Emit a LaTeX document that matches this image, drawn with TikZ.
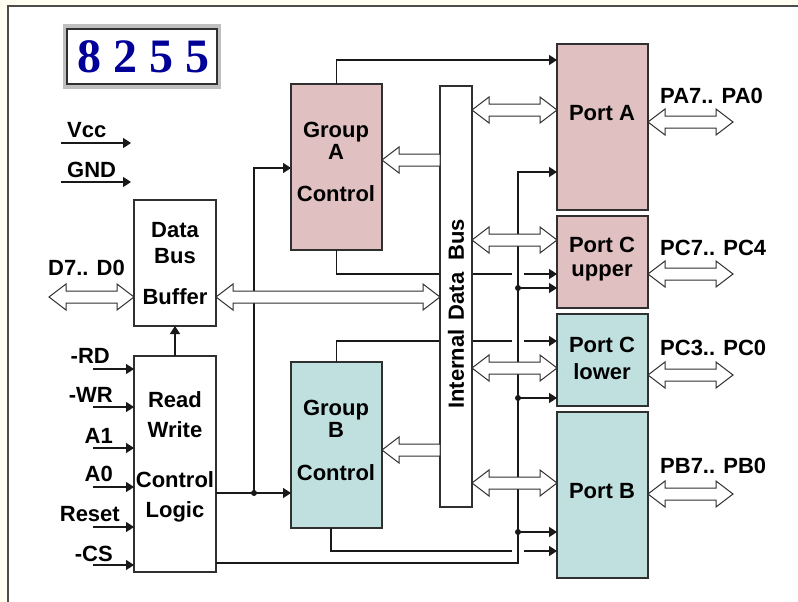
\documentclass[tikz,border=0pt]{standalone}
\usepackage{fontspec}
\setmainfont{Liberation Sans}
\newfontfamily\digitfont{Liberation Serif}
\usetikzlibrary{arrows.meta,calc}
\definecolor{cream}{HTML}{FFFEF0}
\definecolor{pinkfill}{HTML}{E0C0C0}
\definecolor{cyanfill}{HTML}{C0E0E0}
\definecolor{edge}{HTML}{303030}
\definecolor{digblue}{HTML}{000099}
\tikzset{
  box/.style={draw=edge, line width=1.5pt, inner sep=0pt, outer sep=0pt, anchor=north west},
  lbl/.style={font=\fontsize{22}{26}\selectfont\bfseries, inner sep=0pt, anchor=base},
  lblw/.style={lbl, anchor=base west},
  lble/.style={lbl, anchor=base east},
  conn/.style={draw=black!90, line width=1.6pt},
  arr/.style={conn, -{Triangle[length=8pt,width=10pt]}},
  hollow/.style={fill=white, draw=edge, line width=1pt, line join=miter},
  dot/.style={fill=black!90}
}
\newcommand{\hdouble}[2]{%
  \filldraw[hollow] let \p1=#1, \p2=#2 in
  (\x1,\y1) -- ++(17pt,13pt) -- ++(0,-7pt) -- (\x2-17pt,\y1+6pt) -- ++(0,7pt)
  -- (\x2,\y1) -- ++(-17pt,-13pt) -- ++(0,7pt) -- (\x1+17pt,\y1-6pt) -- ++(0,-7pt) -- cycle;}
\newcommand{\hleft}[2]{%
  \filldraw[hollow] let \p1=#1, \p2=#2 in
  (\x1,\y1) -- ++(17pt,13pt) -- ++(0,-7pt) -- (\x2,\y1+6pt) -- (\x2,\y1-6pt)
  -- (\x1+17pt,\y1-6pt) -- ++(0,-7pt) -- cycle;}
\begin{document}
\begin{tikzpicture}[x=1pt,y=-1pt]
\useasboundingbox (0,0) rectangle (798,602);
% background and frame
\fill[cream] (0,0) rectangle (798,602);
\fill[white] (7.5,6.5) rectangle (798,602);
\draw[line width=2pt, color=black!70] (7.5,602) -- (7.5,6.5) -- (798,6.5);
% title
\fill[black!25] (63,24) rectangle (221,89);
\node[box, fill=white, line width=1.8pt, minimum width=150pt, minimum height=55pt] (title) at (67,29) {};
\node[font=\digitfont\bfseries\fontsize{48}{48}\selectfont, text=digblue, inner sep=0pt, anchor=base] (titletxt) at (143,73) {8 2 5 5};
% boxes
\node[box, fill=white, minimum width=82pt, minimum height=126pt] (dbb) at (134,200) {};
\node[box, fill=white, minimum width=82pt, minimum height=216pt] (rw) at (134,356) {};
\node[box, fill=pinkfill, minimum width=91pt, minimum height=166pt] (ga) at (291,84) {};
\node[box, fill=cyanfill, minimum width=91pt, minimum height=166pt] (gb) at (291,362) {};
\node[box, fill=pinkfill, minimum width=91pt, minimum height=166pt] (pa) at (557,44) {};
\node[box, fill=pinkfill, minimum width=91pt, minimum height=92pt] (pcu) at (557,216) {};
\node[box, fill=cyanfill, minimum width=91pt, minimum height=92pt] (pcl) at (557,314) {};
\node[box, fill=cyanfill, minimum width=91pt, minimum height=166pt] (pb) at (557,412) {};
% box texts
\node[lbl] (t1) at (175,237) {Data};
\node[lbl] (t2) at (175,263) {Bus};
\node[lbl] (t3) at (175,304) {Buffer};
\node[lbl] (t4) at (175,407) {Read};
\node[lbl] (t5) at (175,437) {Write};
\node[lbl] (t6) at (175,487) {Control};
\node[lbl] (t7) at (175,517) {Logic};
\node[lbl] (t8) at (336,137) {Group};
\node[lbl] (t9) at (336,159) {A};
\node[lbl] (t10) at (336,201) {Control};
\node[lbl] (t11) at (336,415) {Group};
\node[lbl] (t12) at (336,437) {B};
\node[lbl] (t13) at (336,480) {Control};
\node[lbl] (t14) at (602,120) {Port A};
\node[lbl] (t15) at (602,252) {Port C};
\node[lbl] (t16) at (602,276) {upper};
\node[lbl] (t17) at (602,352) {Port C};
\node[lbl] (t18) at (602,379) {lower};
\node[lbl] (t19) at (602,498) {Port B};
% side labels
\node[lblw] (lvcc) at (67,137) {Vcc};
\node[lblw] (lgnd) at (67,177) {GND};
\node[lblw] (ld) at (48,275) {D7.. D0};
\node[lble] (lrd) at (110,363) {-RD};
\node[lble] (lwr) at (113,402) {-WR};
\node[lble] (la1) at (113,443) {A1};
\node[lble] (la0) at (113,481) {A0};
\node[lble] (lres) at (120,521) {Reset};
\node[lble] (lcs) at (113,561) {-CS};
\node[lblw] (lpa) at (660,103) {PA7.. PA0};
\node[lblw] (lpcu) at (660,255) {PC7.. PC4};
\node[lblw] (lpcl) at (660,355) {PC3.. PC0};
\node[lblw] (lpb) at (660,473) {PB7.. PB0};
% Vcc, GND
\coordinate (vccS) at (61,143); \coordinate (vccE) at (131,143);
\coordinate (gndS) at (61,182); \coordinate (gndE) at (131,182);
\draw[arr] (vccS) -- (vccE);
\draw[arr] (gndS) -- (gndE);
% control inputs
\foreach \yy/\nm in {369/rd,407/wr,448/aone,487/azero,527/res,565/cs}{
  \coordinate (in\nm) at (93,\yy);
  \draw[arr] (in\nm) -- (in\nm -| rw.west);
}
% RW -> DBB
\draw[arr] (rw.north) -- (dbb.south);
% RW -> groups
\coordinate (j1) at (254,493);
\draw[arr] (rw.east |- j1) -- (gb.west |- j1);
\draw[arr] (j1) |- (ga.west |- 0,168);
\fill[dot] (j1) circle (3pt);
% group lines
\draw[arr] (ga.north) |- (pa.west |- 0,60);
\draw[arr] (ga.south) |- (pcu.west |- 0,274);
\draw[arr] (gb.north) |- (pcl.west |- 0,341);
\draw[arr] (gb.south -| 331,0) |- (pb.west |- 0,551);
% internal bus
\node[box, fill=white, minimum width=32pt, minimum height=421pt] (bus) at (440,86) {};
\node[lbl, anchor=center, rotate=90] (bustxt) at (456,314) {Internal\hspace{9pt}Data\hspace{12pt}Bus};
% vertical control line with crossing gaps
\draw[white, line width=12pt] (518,200) -- (518,556);
\coordinate (vc) at (518,172);
\draw[arr] (rw.east |- 0,563) -| (vc) -- (pa.west |- vc);
\foreach \yy/\pp in {288/pcu,398/pcl,532/pb}{
  \coordinate (b\pp) at (518,\yy);
  \draw[arr] (b\pp) -- (\pp.west |- b\pp);
  \fill[dot] (b\pp) circle (3pt);
}
% hollow bus arrows
\coordinate (dS) at (49,297);
\hdouble{(dS)}{(dbb.west |- dS)}
\hdouble{(dbb.east |- 0,297)}{(bus.west |- 0,297)}
\hleft{(ga.east |- 0,160)}{(bus.west |- 0,160)}
\hleft{(gb.east |- 0,450)}{(bus.west |- 0,450)}
\hdouble{(bus.east |- 0,110)}{(pa.west |- 0,110)}
\hdouble{(bus.east |- 0,240)}{(pcu.west |- 0,240)}
\hdouble{(bus.east |- 0,368)}{(pcl.west |- 0,368)}
\hdouble{(bus.east |- 0,483)}{(pb.west |- 0,483)}
% external port buses
\coordinate (oa) at (733,122); \coordinate (ocu) at (733,274);
\coordinate (ocl) at (733,375); \coordinate (ob) at (733,494);
\hdouble{(pa.east |- oa)}{(oa)}
\hdouble{(pcu.east |- ocu)}{(ocu)}
\hdouble{(pcl.east |- ocl)}{(ocl)}
\hdouble{(pb.east |- ob)}{(ob)}
\end{tikzpicture}
\end{document}
